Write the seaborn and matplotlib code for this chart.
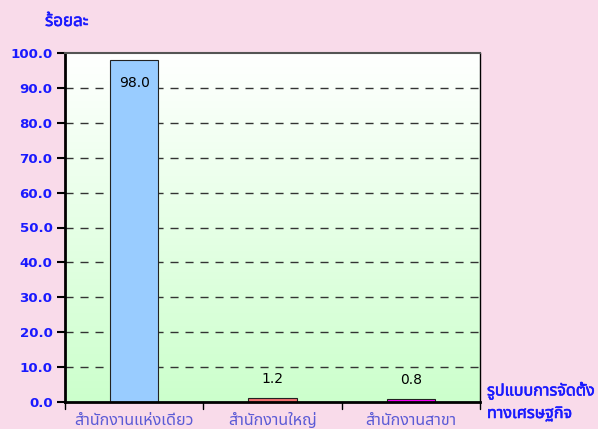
import numpy as np
import pandas as pd
import matplotlib
matplotlib.use("Agg")
import matplotlib.pyplot as plt
import matplotlib.patheffects as pe
import seaborn as sns
from matplotlib import font_manager
from matplotlib.ft2font import FT2Font

categories = ["สำนักงานแห่งเดียว", "สำนักงานใหญ่", "สำนักงานสาขา"]
values = [98.0, 1.2, 0.8]
value_labels = ["98.0", "1.2", "0.8"]
bar_colors = ["#99ccff", "#f07070", "#ff00ff"]
ytick_values = [0, 10, 20, 30, 40, 50, 60, 70, 80, 90, 100]
ylabel_text = "ร้อยละ"
xlabel_lines = ["รูปแบบการจัดตั้ง", "ทางเศรษฐกิจ"]

# find a font with Thai glyphs
cands = []
for f in font_manager.fontManager.ttflist:
    try:
        cm = FT2Font(f.fname).get_charmap()
        if 0x0E01 in cm and 0x0E33 in cm:
            cands.append(f.name)
    except Exception:
        pass
thai_font = None
for p in ["Tahoma", "Noto Sans Thai", "Noto Sans Thai UI", "Loma", "Garuda", "DejaVu Sans"]:
    if p in cands:
        thai_font = p
        break
if thai_font is None:
    thai_font = sorted(set(cands))[0] if cands else "DejaVu Sans"

sns.set_theme(style="white")
plt.rcParams['font.family'] = [thai_font, 'DejaVu Sans']

fig = plt.figure(figsize=(5.98, 4.29), dpi=100)
fig.patch.set_facecolor("#f9dbea")
ax = fig.add_axes([65/598, 27/429, 415/598, 349/429])

# gradient background
grad = np.linspace(0, 1, 256).reshape(-1, 1)
top = np.array([1.0, 1.0, 1.0])
bot = np.array([0.80, 1.0, 0.80])
img = top[None, None, :] * (1 - grad[:, :, None]) + bot[None, None, :] * grad[:, :, None]
ax.imshow(img, extent=[0, 1, 0, 1], transform=ax.transAxes, aspect="auto", zorder=0)

df = pd.DataFrame({"cat": categories, "val": values})
sns.barplot(data=df, x="cat", y="val", hue="cat", palette=bar_colors, legend=False,
            width=0.35, edgecolor="#222222", linewidth=0.8, saturation=1, ax=ax, zorder=3)

ax.set_xlim(-0.5, 2.5)
ax.set_ylim(0, 100)
ax.set_yticks(ytick_values)
ax.set_yticklabels([f"{v:.1f}" for v in ytick_values], color="#1a1aff", fontsize=9.6,
                   fontweight="bold", family="DejaVu Sans")
for v in ytick_values[1:-1]:
    ax.axhline(v, color="#333333", linestyle=(0, (5.8, 5.0)), linewidth=1.0, zorder=1)

stroke_bold = [pe.withStroke(linewidth=0.4, foreground="#1a1aff")]

ax.set_xticks([0, 1, 2])
ax.set_xticklabels(categories, color="#5b5bd6", fontsize=11.6)
ax.tick_params(axis="x", length=0, pad=8)
for b in [-0.5, 0.5, 1.5, 2.5]:
    ax.plot([b, b], [0, -0.02], transform=ax.get_xaxis_transform(), color="black",
            linewidth=1, clip_on=False, zorder=5)
ax.tick_params(axis="y", length=6, width=1.5, direction="out", left=True, pad=3, color="black")

ax.set_xlabel("")
ax.set_ylabel("")
ax.set_facecolor("none")

for s in ["left", "bottom"]:
    ax.spines[s].set_color("black")
    ax.spines[s].set_linewidth(2)
ax.spines["top"].set_color("#555555")
ax.spines["top"].set_linewidth(1.5)
ax.spines["right"].set_color("black")
ax.spines["right"].set_linewidth(1)
for s in ax.spines.values():
    s.set_zorder(6)

for i, (v, lab) in enumerate(zip(values, value_labels)):
    off = -23 if v > 50 else 19
    ax.annotate(lab, (i, v), xytext=(0, off * 0.72), textcoords="offset points",
                ha="center", va="center", fontsize=10, color="black", zorder=7,
                family="DejaVu Sans")

fig.text(45/598, 1 - 22/429, ylabel_text, color="#1a1aff", fontsize=12.2,
         ha="left", va="center", path_effects=stroke_bold)
fig.text(487/598, 1 - 391/429, xlabel_lines[0], color="#1a1aff", fontsize=11.6,
         ha="left", va="center", path_effects=stroke_bold)
fig.text(487/598, 1 - 414/429, xlabel_lines[1], color="#1a1aff", fontsize=11.6,
         ha="left", va="center", path_effects=stroke_bold)

fig.savefig("out.png", dpi=100, facecolor=fig.get_facecolor())
